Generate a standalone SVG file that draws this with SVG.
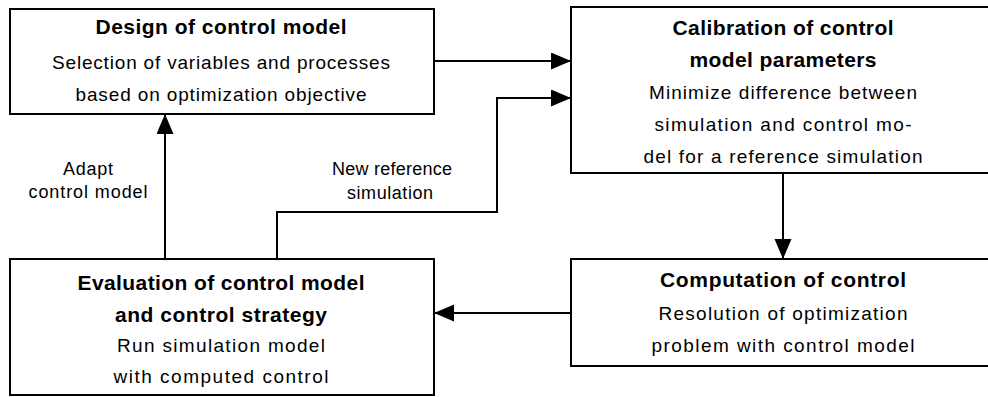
<svg xmlns="http://www.w3.org/2000/svg" width="988" height="397" viewBox="0 0 988 397">
<style>
.box{fill:#fff;stroke:#000;stroke-width:2}
text{font-family:"Liberation Sans",Arial,sans-serif;text-anchor:middle;fill:#000}
.t{font-size:21px;font-weight:bold}
.b{font-size:19px}
.l{font-size:18px}
.c{fill:none;stroke:#000;stroke-width:2;marker-end:url(#ah)}
</style>
<defs>
<marker id="ah" markerUnits="userSpaceOnUse" markerWidth="22" markerHeight="18" refX="20" refY="8.5" orient="auto">
<path d="M0,0 L20,8.5 L0,17 z" fill="#000"/>
</marker>
</defs>
<g id="connectors">
<path class="c" d="M434,61 H571"/>
<path class="c" d="M277,259 V212 H497 V98 H571"/>
<path class="c" d="M165,259 V114"/>
<path class="c" d="M783,173 V259"/>
<path class="c" d="M571,313 H434"/>
</g>
<g id="labels">
<text class="l" x="88" y="175" textLength="50" lengthAdjust="spacing">Adapt</text>
<text class="l" x="88" y="198" textLength="119" lengthAdjust="spacing">control model</text>
<text class="l" x="392" y="175" textLength="120" lengthAdjust="spacing">New reference</text>
<text class="l" x="390" y="199" textLength="86" lengthAdjust="spacing">simulation</text>
</g>
<g id="design">
<rect class="box" x="10" y="9" width="424" height="105"/>
<text class="t" x="221" y="34" textLength="251" lengthAdjust="spacing">Design of control model</text>
<text class="b" x="221" y="69" textLength="338" lengthAdjust="spacing">Selection of variables and processes</text>
<text class="b" x="221" y="101" textLength="291" lengthAdjust="spacing">based on optimization objective</text>
</g>
<g id="calibration">
<rect class="box" x="571" y="7" width="430" height="166"/>
<text class="t" x="783" y="35" textLength="221" lengthAdjust="spacing">Calibration of control</text>
<text class="t" x="783" y="67" textLength="187" lengthAdjust="spacing">model parameters</text>
<text class="b" x="783" y="99" textLength="268" lengthAdjust="spacing">Minimize difference between</text>
<text class="b" x="783" y="131" textLength="257" lengthAdjust="spacing">simulation and control mo-</text>
<text class="b" x="783" y="163" textLength="279" lengthAdjust="spacing">del for a reference simulation</text>
</g>
<g id="computation">
<rect class="box" x="571" y="259" width="430" height="107"/>
<text class="t" x="783" y="287" textLength="246" lengthAdjust="spacing">Computation of control</text>
<text class="b" x="783" y="320" textLength="249" lengthAdjust="spacing">Resolution of optimization</text>
<text class="b" x="783" y="352" textLength="263" lengthAdjust="spacing">problem with control model</text>
</g>
<g id="evaluation">
<rect class="box" x="10" y="259" width="424" height="136"/>
<text class="t" x="221" y="290" textLength="287" lengthAdjust="spacing">Evaluation of control model</text>
<text class="t" x="221" y="322" textLength="212" lengthAdjust="spacing">and control strategy</text>
<text class="b" x="221" y="352" textLength="208" lengthAdjust="spacing">Run simulation model</text>
<text class="b" x="221" y="383" textLength="215" lengthAdjust="spacing">with computed control</text>
</g>
</svg>
